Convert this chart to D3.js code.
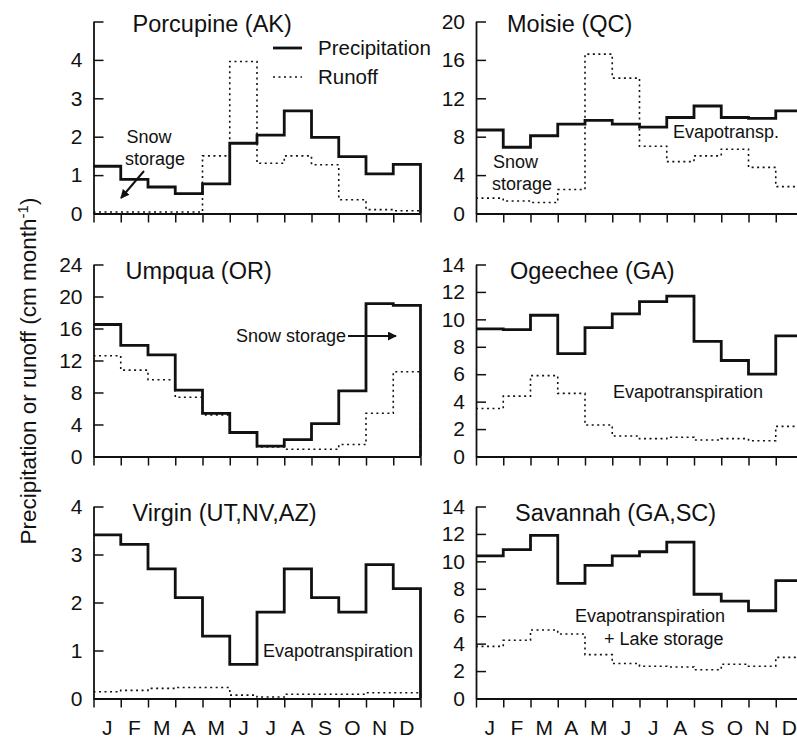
<!DOCTYPE html>
<html><head><meta charset="utf-8">
<script src="https://cdn.jsdelivr.net/npm/d3@7"></script>
<style>
body{margin:0;background:#fff;}
svg text{font-family:"Liberation Sans",Arial,Helvetica,sans-serif;fill:#111;}
</style></head>
<body><svg id="chart" width="797" height="738"></svg>
<script>
const months = ["J","F","M","A","M","J","J","A","S","O","N","D"];
const panelNames = ["Porcupine (AK)","Moisie (QC)","Umpqua (OR)","Ogeechee (GA)","Virgin (UT,NV,AZ)","Savannah (GA,SC)"];
const yMax = [5,20,24,14,4,14];
const yStep = [1,4,4,2,1,2];
const hiddenTopLabel = [true,false,false,false,false,false];

const porcupinePrecip = [1.23,0.89,0.69,0.52,0.77,1.83,2.04,2.67,1.98,1.48,1.03,1.28];
const porcupineRunoff = [0.04,0.04,0.04,0.04,1.50,3.96,1.31,1.50,1.27,0.36,0.10,0.07];
const moisiePrecip = [8.7,6.9,8.1,9.3,9.7,9.3,9.0,10.0,11.2,10.0,9.9,10.7];
const moisieRunoff = [1.6,1.3,1.15,2.5,16.6,14.1,7.0,5.4,6.0,6.7,4.8,2.8];
const umpquaPrecip = [16.5,13.9,12.7,8.3,5.4,3.0,1.3,2.1,4.1,8.2,19.1,18.9];
const umpquaRunoff = [12.6,10.8,9.6,7.4,5.2,2.9,1.2,0.9,0.9,1.5,5.4,10.6];
const ogeecheePrecip = [9.3,9.25,10.3,7.5,9.4,10.4,11.3,11.7,8.4,7.0,6.0,8.8];
const ogeecheeRunoff = [3.5,4.4,5.9,4.6,2.3,1.5,1.3,1.4,1.2,1.3,1.15,2.2];
const virginPrecip = [3.41,3.21,2.70,2.10,1.30,0.71,1.80,2.70,2.10,1.80,2.79,2.29];
const virginRunoff = [0.14,0.17,0.21,0.23,0.23,0.07,0.03,0.09,0.09,0.09,0.12,0.12];
const savannahPrecip = [10.4,10.85,11.9,8.4,9.7,10.4,10.7,11.4,7.6,7.1,6.4,8.6];
const savannahRunoff = [3.8,4.25,5.0,4.7,3.2,2.55,2.35,2.3,2.1,2.5,2.35,3.0];

const precipSeries = [porcupinePrecip,moisiePrecip,umpquaPrecip,ogeecheePrecip,virginPrecip,savannahPrecip];
const runoffSeries = [porcupineRunoff,moisieRunoff,umpquaRunoff,ogeecheeRunoff,virginRunoff,savannahRunoff];

const legendLabels = ["Precipitation","Runoff"];
const yAxisTitle = "Precipitation or runoff (cm month";

// layout (not data)
const colX = [93.5, 476];
const plotW = 327;
const rowBottom = [213.5, 456.5, 698.5];
const plotH = 192;
const titleDx = [39, 31, 32, 34, 39, 39];

const svg = d3.select("#chart");

function stepPoints(vals){
  const pts = vals.map((v,i)=>[i,v]);
  pts.push([12, vals[11]]);
  pts.push([12, 0]);
  return pts;
}

for (let p=0;p<6;p++){
  const col = p%2, row = Math.floor(p/2);
  const x0 = colX[col], yb = rowBottom[row];
  const g = svg.append("g");
  const x = d3.scaleLinear().domain([0,12]).range([x0, x0+plotW]);
  const y = d3.scaleLinear().domain([0,yMax[p]]).range([yb, yb-plotH]);

  const xa = g.append("g").attr("transform",`translate(0,${yb})`)
    .call(d3.axisBottom(x).tickValues(d3.range(0,13)).tickSize(9).tickSizeOuter(0).tickFormat(""));
  xa.select(".domain").attr("stroke","#111").attr("stroke-width",1.8);
  xa.selectAll(".tick line").attr("stroke","#111").attr("stroke-width",1.5);

  if (row===2){
    const band = d3.scaleBand().domain(d3.range(12)).range([x0, x0+plotW]);
    g.selectAll("text.mon").data(months).join("text")
      .attr("class","mon")
      .attr("x",(d,i)=>band(i)+band.bandwidth()/2)
      .attr("y",735)
      .attr("text-anchor","middle")
      .attr("font-size",21)
      .text(d=>d);
  }

  const ticks = d3.range(0, yMax[p]+0.001, yStep[p]);
  const ya = g.append("g").attr("transform",`translate(${x0},0)`)
    .call(d3.axisLeft(y).tickValues(ticks).tickSize(-10).tickSizeOuter(0).tickPadding(11)
      .tickFormat(d => (hiddenTopLabel[p] && d===yMax[p]) ? "" : d3.format("d")(d)));
  ya.select(".domain").attr("stroke","#111").attr("stroke-width",1.8);
  ya.selectAll(".tick line").attr("stroke","#111").attr("stroke-width",1.5);
  ya.selectAll(".tick text").attr("font-size",21).attr("font-family","Liberation Sans, Arial, sans-serif").attr("fill","#111");

  const line = d3.line().x(d=>x(d[0])).y(d=>y(d[1])).curve(d3.curveStepAfter);

  g.append("path").datum(stepPoints(runoffSeries[p]))
    .attr("d", line).attr("fill","none").attr("stroke","#111")
    .attr("stroke-width",1.6).attr("stroke-dasharray","2,3.5");
  g.append("path").datum(stepPoints(precipSeries[p]))
    .attr("d", line).attr("fill","none").attr("stroke","#111")
    .attr("stroke-width",2.8).attr("stroke-linejoin","miter");

  g.append("text").attr("x", x0+titleDx[p]).attr("y", yb-plotH+ (row===0?10:14))
    .attr("font-size",23.5).text(panelNames[p]);
}

svg.append("defs").append("marker").attr("id","ah")
  .attr("viewBox","0 0 10 10").attr("refX",9).attr("refY",5)
  .attr("markerWidth",4.5).attr("markerHeight",4.5).attr("orient","auto")
  .append("path").attr("d","M0,0 L10,5 L0,10 z").attr("fill","#111");

// legend
svg.append("line").attr("x1",273).attr("x2",302).attr("y1",48).attr("y2",48)
  .attr("stroke","#111").attr("stroke-width",2.8);
svg.append("line").attr("x1",273).attr("x2",302).attr("y1",77).attr("y2",77)
  .attr("stroke","#111").attr("stroke-width",1.6).attr("stroke-dasharray","2,3.5");
svg.append("text").attr("x",318).attr("y",55).attr("font-size",20.5).text(legendLabels[0]);
svg.append("text").attr("x",318).attr("y",84).attr("font-size",20.5).text(legendLabels[1]);

// annotations
function ann(x,y,t,anchor){svg.append("text").attr("x",x).attr("y",y).attr("font-size",18)
  .attr("text-anchor",anchor||"start").text(t);}
ann(149,143,"Snow","middle"); ann(155,165,"storage","middle");
svg.append("line").attr("x1",144).attr("y1",171).attr("x2",121).attr("y2",198)
  .attr("stroke","#111").attr("stroke-width",2).attr("marker-end","url(#ah)");
ann(493,168,"Snow"); ann(492,190,"storage");
ann(673,138,"Evapotransp.");
ann(236,342,"Snow storage");
svg.append("line").attr("x1",348).attr("y1",336).attr("x2",396).attr("y2",336)
  .attr("stroke","#111").attr("stroke-width",2).attr("marker-end","url(#ah)");
ann(613,398,"Evapotranspiration");
ann(263,657,"Evapotranspiration");
ann(575,622,"Evapotranspiration"); ann(604,645,"+ Lake storage");

// y axis title
const yt = svg.append("text").attr("transform","translate(36,371) rotate(-90)")
  .attr("text-anchor","middle").attr("font-size",22.5);
yt.append("tspan").text(yAxisTitle);
yt.append("tspan").attr("font-size",15).attr("dy",-8).text("-1");
yt.append("tspan").attr("dy",8).text(")");
</script></body></html>
